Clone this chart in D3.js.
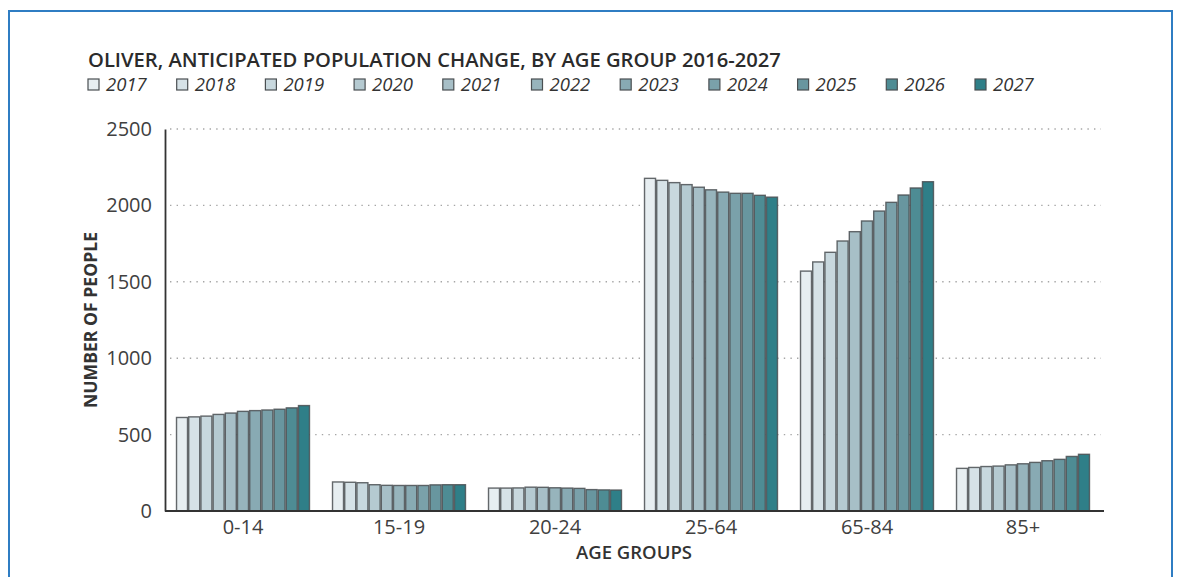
<!DOCTYPE html>
<html>
<head>
<meta charset="utf-8">
<script src="https://cdn.jsdelivr.net/npm/d3@7"></script>
<style>
  html, body { margin: 0; padding: 0; background: #fff; }
  svg { display: block; font-family: "Open Sans", "Noto Sans", sans-serif; }
</style>
</head>
<body>
<svg id="chart" width="1185" height="577"></svg>
<script>
// Age groups on the x axis
const ageGroups = ["0-14", "15-19", "20-24", "25-64", "65-84", "85+"];
// Projection years (one bar per year within each age group)
const years = ["2017", "2018", "2019", "2020", "2021", "2022", "2023", "2024", "2025", "2026", "2027"];
// Projected population per age group, 2017..2027
const pop0_14  = [612, 616, 621, 632, 641, 652, 657, 661, 666, 675, 690];
const pop15_19 = [190, 188, 185, 172, 168, 167, 167, 167, 171, 172, 172];
const pop20_24 = [150, 150, 151, 156, 155, 152, 150, 148, 140, 138, 137];
const pop25_64 = [2177, 2164, 2149, 2136, 2119, 2102, 2087, 2079, 2079, 2066, 2054];
const pop65_84 = [1570, 1630, 1693, 1767, 1828, 1898, 1963, 2020, 2068, 2114, 2155];
const pop85p   = [279, 285, 291, 294, 302, 309, 318, 329, 338, 357, 371];
const yTicks = [0, 500, 1000, 1500, 2000, 2500];
const yearColors = ["#e7eef1", "#d6e2e7", "#c8d8de", "#b5cad1", "#a7bfc7", "#97b4bc",
                    "#88aab3", "#7aa1aa", "#68969f", "#4e8c94", "#2f7f88"];

const series = [pop0_14, pop15_19, pop20_24, pop25_64, pop65_84, pop85p];
const rows = ageGroups.map((g, i) => ({
  group: g,
  values: years.map((yr, j) => ({ year: yr, value: series[i][j] }))
}));

const svg = d3.select("#chart");

// Outer frame
svg.append("rect")
  .attr("x", 9).attr("y", 11).attr("width", 1163).attr("height", 600)
  .attr("fill", "none").attr("stroke", "#2f7dc3").attr("stroke-width", 2);

const plotLeft = 165, plotRight = 1101, plotTop = 129, plotBottom = 511;

const x0 = d3.scaleBand().domain(ageGroups).range([plotLeft, plotRight]).paddingInner(0.14).paddingOuter(0.07);
const x1 = d3.scaleBand().domain(years).range([0, x0.bandwidth()]).padding(0);
const y = d3.scaleLinear().domain([0, 2500]).range([plotBottom, plotTop]);
const color = d3.scaleOrdinal().domain(years).range(yearColors);

// Dotted gridlines
svg.append("g")
  .selectAll("line")
  .data(yTicks.filter(t => t > 0))
  .join("line")
  .attr("x1", plotLeft + 5).attr("x2", plotRight)
  .attr("y1", d => y(d)).attr("y2", d => y(d))
  .attr("stroke", "#a6a6a6").attr("stroke-width", 1.4)
  .attr("stroke-dasharray", "1.4,5.2");

// Bars
svg.append("g")
  .selectAll("g")
  .data(rows)
  .join("g")
  .attr("transform", d => `translate(${x0(d.group)},0)`)
  .selectAll("rect")
  .data(d => d.values)
  .join("rect")
  .attr("x", d => x1(d.year) + 0.6)
  .attr("width", x1.bandwidth() - 1.2)
  .attr("y", d => y(d.value))
  .attr("height", d => plotBottom - y(d.value))
  .attr("fill", d => color(d.year))
  .attr("stroke", "#4a4f52")
  .attr("stroke-opacity", 0.85)
  .attr("stroke-width", 1.4);

// Y axis
const yAxis = svg.append("g")
  .attr("transform", `translate(${plotLeft},0)`)
  .call(d3.axisLeft(y).tickValues(yTicks).tickSize(0).tickPadding(13).tickFormat(d3.format("d")));
yAxis.select(".domain").attr("stroke", "#333").attr("stroke-width", 1.8);
yAxis.selectAll("text").attr("font-size", 20).attr("fill", "#404040")
  .attr("font-family", "'Open Sans', sans-serif");

// X axis
const xAxis = svg.append("g")
  .attr("transform", `translate(0,${plotBottom})`)
  .call(d3.axisBottom(x0).tickSize(0).tickPadding(9));
xAxis.select(".domain").attr("d", `M${plotLeft},0H${plotRight + 3}`).attr("stroke", "#333").attr("stroke-width", 1.8);
xAxis.selectAll("text").attr("font-size", 20).attr("fill", "#404040")
  .attr("font-family", "'Open Sans', sans-serif");

// Axis titles
svg.append("text")
  .attr("transform", `translate(97,320) rotate(-90)`)
  .attr("text-anchor", "middle")
  .attr("font-size", 17.6).attr("font-weight", 700).attr("fill", "#333")
  .text("NUMBER OF PEOPLE");

svg.append("text")
  .attr("x", 634).attr("y", 559)
  .attr("text-anchor", "middle")
  .attr("font-size", 18.5).attr("font-weight", 600).attr("fill", "#333")
  .text("AGE GROUPS");

// Title
svg.append("text")
  .attr("x", 88).attr("y", 67)
  .attr("font-size", 20.2).attr("font-weight", 600).attr("fill", "#2b2b2b")
  .text("OLIVER, ANTICIPATED POPULATION CHANGE, BY AGE GROUP 2016-2027");

// Legend
const legend = svg.append("g")
  .selectAll("g")
  .data(years)
  .join("g")
  .attr("transform", (d, i) => `translate(${88 + i * 88.7},79)`);
legend.append("rect")
  .attr("width", 11).attr("height", 11)
  .attr("fill", d => color(d))
  .attr("stroke", "#4a4f52").attr("stroke-width", 1.2);
legend.append("text")
  .attr("x", 18).attr("y", 12)
  .attr("font-size", 18.5).attr("font-style", "italic").attr("fill", "#333")
  .text(d => d);
</script>
</body>
</html>
